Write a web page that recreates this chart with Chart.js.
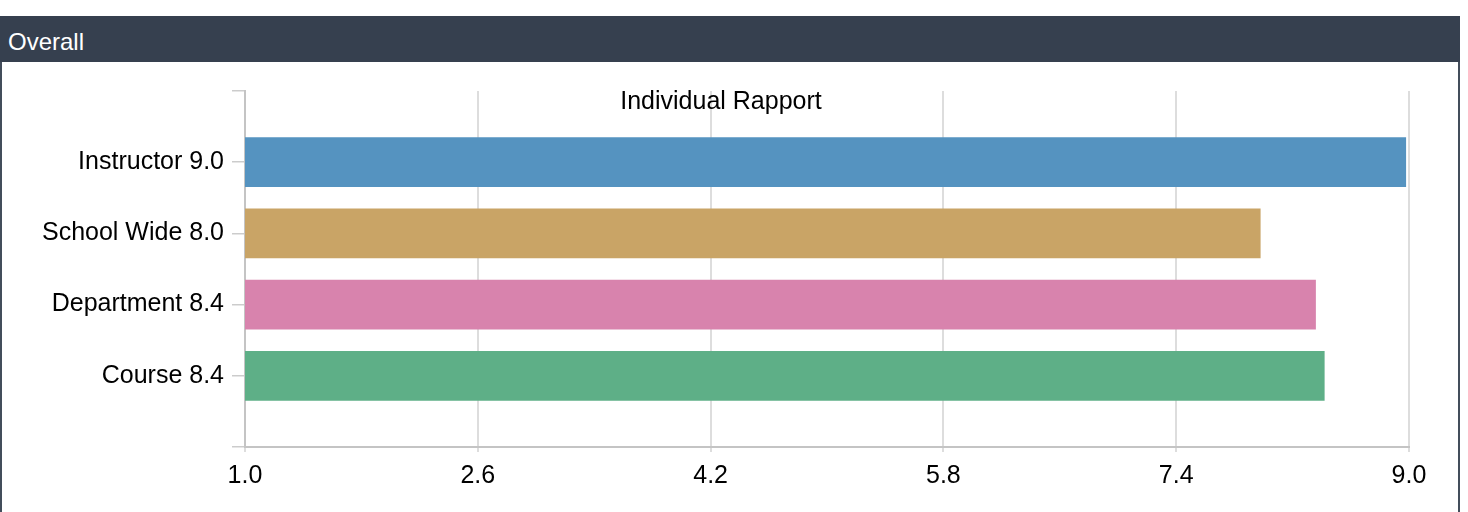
<!DOCTYPE html>
<html>
<head>
<meta charset="utf-8">
<title>Overall</title>
<script src="https://cdn.jsdelivr.net/npm/chart.js@4"></script>
<style>
  html, body { margin: 0; padding: 0; background: #ffffff; font-family: "Liberation Sans", Arial, sans-serif; }
  .card { position: absolute; left: 0; top: 16px; width: 1460px; }
  .card-head {
    height: 46px; box-sizing: border-box; padding: 3px 0 0 8px; overflow: hidden;
    background: #36404f; color: #ffffff; font-size: 24px; line-height: 46px;
  }
  .card-body { border-left: 2px solid #434d5b; border-right: 2px solid #434d5b; height: 450px; }
  canvas { display: block; }
</style>
</head>
<body>
<div class="card">
  <div class="card-head">Overall</div>
  <div class="card-body"><canvas id="rapport" width="1456" height="450"></canvas></div>
</div>
<script>
// Scores per comparison group (1–9 scale)
const categories = ['Instructor', 'School Wide', 'Department', 'Course'];
const scores = [8.98, 7.98, 8.36, 8.42];
const xTicks = [1.0, 2.6, 4.2, 5.8, 7.4, 9.0];
const chartTitle = 'Individual Rapport';

const palette = ['#5593c0', '#c9a466', '#d883ad', '#5eaf87'];
const FONT = '"Liberation Sans", Arial, sans-serif';

Chart.defaults.font.family = FONT;
Chart.defaults.color = '#000000';

// Empty slots at both ends leave a full row of space above and below the bars
const rowLabels = ['', ...categories.map((c, i) => c + ' ' + scores[i].toFixed(1)), ''];
const rowValues = [null, ...scores, null];
const rowColors = ['rgba(0,0,0,0)', ...palette, 'rgba(0,0,0,0)'];

const titleInPlot = {
  id: 'titleInPlot',
  afterDraw(chart) {
    const ctx = chart.ctx;
    ctx.save();
    ctx.font = '25px ' + FONT;
    ctx.fillStyle = '#000000';
    ctx.textAlign = 'center';
    ctx.textBaseline = 'alphabetic';
    ctx.fillText(chartTitle, 719, 47);
    ctx.restore();
  }
};

new Chart(document.getElementById('rapport'), {
  type: 'bar',
  data: {
    labels: rowLabels,
    datasets: [{
      data: rowValues,
      backgroundColor: rowColors,
      borderWidth: 0,
      categoryPercentage: 1,
      barPercentage: 0.7
    }]
  },
  options: {
    indexAxis: 'y',
    responsive: false,
    animation: false,
    layout: { padding: { left: 0, right: 49, top: 29, bottom: 0 } },
    plugins: { legend: { display: false }, tooltip: { enabled: false }, title: { display: false } },
    scales: {
      x: {
        type: 'linear',
        position: 'bottom',
        min: 1,
        max: 9,
        afterBuildTicks: s => { s.ticks = xTicks.map(v => ({ value: v })); },
        afterFit: s => { s.height = 65; },
        grid: { color: '#dddddd', lineWidth: 2, tickLength: 5 },
        border: { color: '#c4c4c4', width: 2 },
        ticks: { padding: 9, font: { size: 25 }, color: '#000000', callback: v => Number(v).toFixed(1), maxRotation: 0 }
      },
      y: {
        type: 'category',
        offset: false,
        afterFit: s => { s.width = 243; },
        grid: { drawOnChartArea: false, offset: false, tickLength: 13, color: '#cccccc', lineWidth: 1.5 },
        border: { color: '#c4c4c4', width: 2 },
        ticks: { padding: 8, font: { size: 25 }, color: '#000000', autoSkip: false }
      }
    }
  },
  plugins: [titleInPlot]
});
</script>
</body>
</html>
